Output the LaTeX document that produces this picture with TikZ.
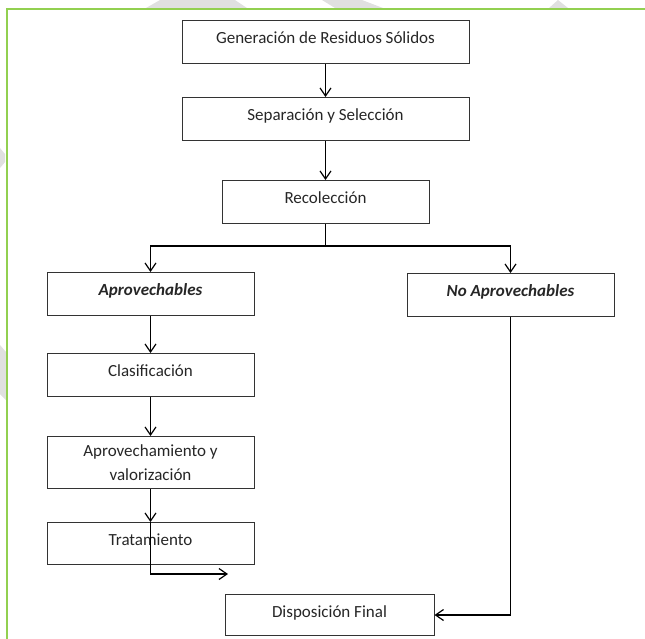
\documentclass[tikz,border=0pt]{standalone}
\usepackage{fontspec}
\setmainfont{Carlito}
\usetikzlibrary{arrows.meta}
\definecolor{verdemarco}{RGB}{146,208,80}
\definecolor{grismarca}{RGB}{224,224,224}
\begin{document}
\begin{tikzpicture}[x=1pt, y=-1pt,
  caja/.style={draw=black!80, line width=1pt, inner sep=0pt, anchor=north,
    text=black!85, font=\fontsize{17}{24}\selectfont,
    text height=22.5pt, text depth=20.5pt},
  flecha/.style={-{Straight Barb[length=8pt, width=11pt]}, line width=1.2pt}]
\useasboundingbox (0,0) rectangle (645,638);
\clip (0,0) rectangle (645,638);

\fill[grismarca] (146,8)--(160,0)--(235,0)--(247,8)--cycle;
\fill[grismarca] (322,0)--(362,0)--(383,8)--(335,8)--cycle;
\fill[grismarca] (549,8)--(558,0)--(568,8)--cycle;
\fill[grismarca] (0,148)--(5,154)--(5,162)--(0,168)--cycle;
\fill[grismarca] (0,345)--(6,352)--(6,400)--(0,394)--cycle;

\draw[verdemarco, line width=2pt] (650,9)--(7,9)--(7,645);

\node[caja, minimum width=287pt] (gen) at (325.5,20) {Generación de Residuos Sólidos};
\node[caja, minimum width=287pt] (sep) at (325.5,97) {Separación y Selección};
\node[caja, minimum width=207pt] (rec) at (325.5,180) {Recolección};
\node[caja, minimum width=207pt] (apr) at (150.5,272) {\bfseries\itshape Aprovechables};
\node[caja, minimum width=207pt] (noapr) at (510.5,273) {\bfseries\itshape No Aprovechables};
\node[caja, minimum width=207pt] (clas) at (150.5,353) {Clasificación};
\node[caja, minimum width=207pt, text height=, text depth=, minimum height=52pt, align=center] (valor) at (150.5,436) {Aprovechamiento y\\valorización};
\node[caja, minimum width=207pt, text depth=19.5pt] (trat) at (150.5,522) {Tratamiento};
\node[caja, minimum width=209pt, text depth=18.5pt] (disp) at (329.5,594) {Disposición Final};
\coordinate (fin) at (228,574);

\draw[flecha] (gen.south)--(sep.north);
\draw[flecha] (sep.south)--(rec.north);
\draw[flecha] (rec.south)--++(0,22)-|(apr.north);
\draw[flecha] (rec.south)--++(0,22)-|(noapr.north);
\draw[flecha] (apr.south)--(clas.north);
\draw[flecha] (clas.south)--(valor.north);
\draw[flecha] (valor.south)--(trat.north);
\draw[flecha] (trat.north)|-(fin);
\draw[flecha] (noapr.south)|-(disp.east);
\end{tikzpicture}
\end{document}
